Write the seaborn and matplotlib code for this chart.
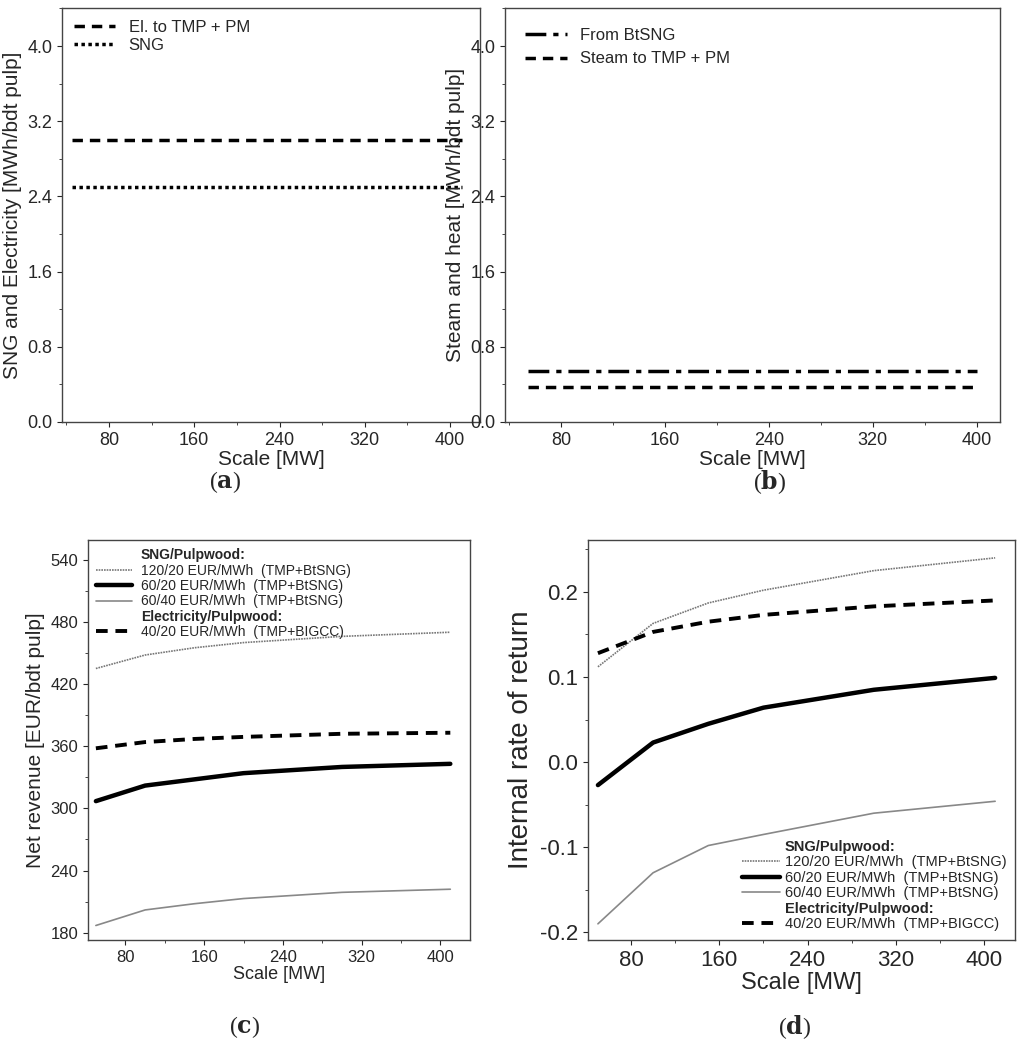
import matplotlib
matplotlib.use("Agg")
import matplotlib.pyplot as plt
import seaborn as sns
import pandas as pd
from matplotlib.ticker import AutoMinorLocator
from matplotlib.lines import Line2D

sns.set_style("ticks")
plt.rcParams["font.family"] = "sans-serif"
plt.rcParams["font.sans-serif"] = ["Liberation Sans"]
plt.rcParams["axes.unicode_minus"] = False

# Panel (a)
a_x = [45, 411]
a_el = [3.0, 3.0]
a_sng = [2.5, 2.5]
# Panel (b)
b_x = [55, 400]
b_btsng = [0.54, 0.54]
b_steam = [0.37, 0.37]
# Panels (c) and (d)
scale = [50, 100, 150, 200, 300, 410]
c_120_20 = [435, 448, 455, 460, 466, 470]
c_60_20 = [307, 322, 328, 334, 340, 343]
c_60_40 = [187, 202, 208, 213, 219, 222]
c_el_40_20 = [358, 364, 367, 369, 372, 373]
d_120_20 = [0.112, 0.163, 0.187, 0.202, 0.225, 0.240]
d_60_20 = [-0.027, 0.023, 0.045, 0.064, 0.085, 0.099]
d_60_40 = [-0.19, -0.13, -0.098, -0.085, -0.06, -0.046]
d_el_40_20 = [0.128, 0.153, 0.165, 0.173, 0.183, 0.190]

legend_labels = ["120/20 EUR/MWh  (TMP+BtSNG)", "60/20 EUR/MWh  (TMP+BtSNG)",
                 "60/40 EUR/MWh  (TMP+BtSNG)", "40/20 EUR/MWh  (TMP+BIGCC)"]

fig = plt.figure(figsize=(10.24, 10.55), dpi=100)
W, H = 1024, 1055
def ax_at(l, t, r, b):
    return fig.add_axes([l / W, 1 - b / H, (r - l) / W, (b - t) / H])

axa = ax_at(62, 8, 480, 422)
axb = ax_at(505, 8, 1000, 422)
axc = ax_at(88, 540, 470, 940)
axd = ax_at(588, 540, 1015, 940)

def style(ax, fs):
    ax.xaxis.set_minor_locator(AutoMinorLocator(2))
    ax.yaxis.set_minor_locator(AutoMinorLocator(2))
    ax.tick_params(labelsize=fs, direction="out")
    for s in ax.spines.values():
        s.set_color("#444444"); s.set_linewidth(1.0)

# (a)
sns.lineplot(x=a_x, y=a_el, ax=axa, color="black", lw=2.5, linestyle=(0, (3, 2)), label="El. to TMP + PM")
sns.lineplot(x=a_x, y=a_sng, ax=axa, color="black", lw=2.5, linestyle=(0, (1, 1)), label="SNG")
axa.set_xlim(36, 428); axa.set_ylim(0, 4.405)
axa.set_xticks([80, 160, 240, 320, 400]); axa.set_yticks([0, 0.8, 1.6, 2.4, 3.2, 4.0])
axa.set_xlabel("Scale [MW]", fontsize=15, labelpad=1)
axa.set_ylabel("SNG and Electricity [MWh/bdt pulp]", fontsize=15, labelpad=4)
axa.legend(loc="upper left", frameon=False, fontsize=12, handlelength=2.5, borderaxespad=0.3, labelspacing=0.2)
style(axa, 13)

# (b)
sns.lineplot(x=b_x, y=b_btsng, ax=axb, color="black", lw=2.5, linestyle=(0, (6, 2, 1.5, 2)), label="From BtSNG")
sns.lineplot(x=b_x, y=b_steam, ax=axb, color="black", lw=2.5, linestyle=(0, (3, 2)), label="Steam to TMP + PM")
axb.set_xlim(37, 418); axb.set_ylim(0, 4.405)
axb.set_xticks([80, 160, 240, 320, 400]); axb.set_yticks([0, 0.8, 1.6, 2.4, 3.2, 4.0])
axb.set_xlabel("Scale [MW]", fontsize=15, labelpad=1)
axb.set_ylabel("Steam and heat [MWh/bdt pulp]", fontsize=15, labelpad=4)
axb.legend(loc="upper left", frameon=False, fontsize=12, handlelength=2.5, borderaxespad=0.8, labelspacing=0.5)
style(axb, 13)

def panel(ax, s120, s6020, s6040, sel):
    sns.lineplot(x=scale, y=s120, ax=ax, color="#777777", lw=1.2, linestyle=(0, (1, 0.6)))
    sns.lineplot(x=scale, y=s6020, ax=ax, color="black", lw=3.2)
    sns.lineplot(x=scale, y=s6040, ax=ax, color="#888888", lw=1.2)
    sns.lineplot(x=scale, y=sel, ax=ax, color="black", lw=2.8, linestyle=(0, (3, 2)))
    lines = ax.get_lines()[:4]
    blank = Line2D([], [], linestyle="none")
    handles = [blank, lines[0], lines[1], lines[2], blank, lines[3]]
    labels = ["SNG/Pulpwood:"] + legend_labels[:3] + ["Electricity/Pulpwood:"] + legend_labels[3:]
    return handles, labels

hc, lc = panel(axc, c_120_20, c_60_20, c_60_40, c_el_40_20)
legc = axc.legend(hc, lc, loc="upper left", frameon=False, fontsize=10, handlelength=2.6,
                  borderaxespad=0.2, labelspacing=0.1, handletextpad=0.6)
for i in (0, 4):
    legc.get_texts()[i].set_fontweight("bold")
axc.set_xlim(42, 430); axc.set_ylim(173, 559)
axc.set_xticks([80, 160, 240, 320, 400]); axc.set_yticks([180, 240, 300, 360, 420, 480, 540])
axc.set_xlabel("Scale [MW]", fontsize=13, labelpad=1)
axc.set_ylabel("Net revenue [EUR/bdt pulp]", fontsize=15)
style(axc, 12)

hd, ld = panel(axd, d_120_20, d_60_20, d_60_40, d_el_40_20)
legd = axd.legend(hd, ld, loc="lower right", frameon=False, fontsize=10.5, handlelength=2.6,
                  borderaxespad=0.2, labelspacing=0.1, handletextpad=0.3)
for i in (0, 4):
    legd.get_texts()[i].set_fontweight("bold")
axd.set_xlim(41, 428); axd.set_ylim(-0.209, 0.261)
axd.set_xticks([80, 160, 240, 320, 400]); axd.set_yticks([-0.2, -0.1, 0.0, 0.1, 0.2])
axd.set_xlabel("Scale [MW]", fontsize=17, labelpad=1)
axd.set_ylabel("Internal rate of return", fontsize=20)
style(axd, 16)

for (x, y, t) in [(225, 482, "a"), (770, 482, "b"), (245, 1027, "c"), (795, 1027, "d")]:
    fig.text(x / W, 1 - y / H, r"($\mathbf{" + t + "}$)", ha="center", va="center",
             fontsize=17, family="Liberation Serif", math_fontfamily="dejavuserif")

fig.savefig("out.png", dpi=100)
